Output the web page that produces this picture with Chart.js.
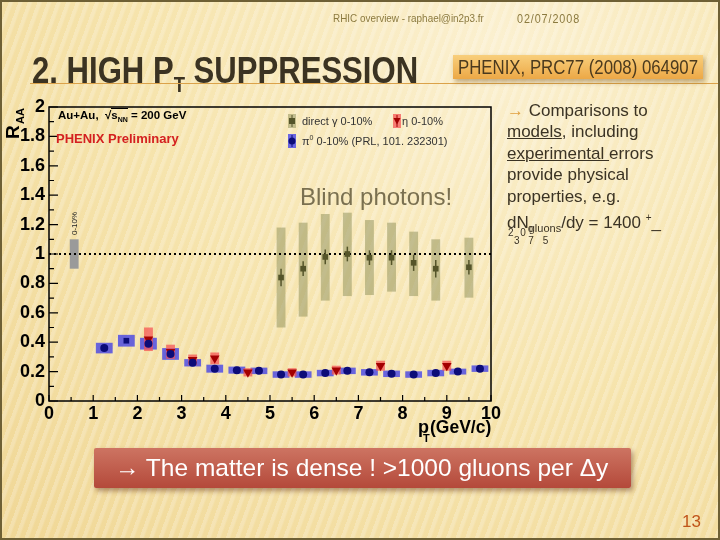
<!DOCTYPE html>
<html>
<head>
<meta charset="utf-8">
<script src="https://cdn.jsdelivr.net/npm/chart.js@4/dist/chart.umd.min.js"></script>
<style>
  html, body { margin: 0; padding: 0; }
  #slide {
    position: relative; width: 720px; height: 540px; overflow: hidden;
    font-family: "Liberation Sans", Arial, sans-serif;
    background:
      repeating-linear-gradient(110deg, rgba(255,255,255,0.22) 0px, rgba(255,255,255,0.22) 3px, rgba(255,255,255,0) 5px, rgba(255,255,255,0) 9px),
      radial-gradient(ellipse at 70% 8%, #fbf0d0 0%, #f6e4ad 50%, #f0d796 100%);
  }
  #c { position: absolute; left: 0; top: 0; }
  .t { position: absolute; white-space: nowrap; }
  #frame { position: absolute; left: 0; top: 0; width: 716px; height: 536px; border: 2px solid #6e6035; pointer-events: none; }
  #header { left: 333px; top: 12px; font-size: 11px; color: #8b7a40; transform: scaleX(0.9); transform-origin: left top; }
  #date { left: 517px; top: 12px; font-size: 12px; letter-spacing: 1px; color: #8b7a40; transform: scaleX(0.9); transform-origin: left top; }
  #title { left: 32px; top: 50px; font: bold 37px "Liberation Sans", Arial, sans-serif; color: #3b3322; transform: scaleX(0.84); transform-origin: left top; }
  #title sub { font-size: 22px; vertical-align: -9px; }
  #rule { position: absolute; left: 30px; top: 83px; width: 690px; height: 1px; background: #dba24a; }
  #ref { left: 453px; top: 55px; width: 250px; height: 24px;
         background: linear-gradient(#f8cf7c, #eca846); box-shadow: 2px 3px 5px rgba(120,80,20,0.45); }
  #ref span { position: absolute; left: 125px; top: 0; line-height: 24px; font-size: 20px; color: #4b3a1e;
              transform: translateX(-50%) scaleX(0.84); }
  #notes { left: 507px; top: 100px; font-size: 17px; line-height: 21.4px; color: #3b3324; }
  #notes .ar { color: #e0a040; }
  #notes u { text-decoration-thickness: 1px; }
  #small1 { left: 508px; top: 224px; font-size: 10px; color: #3b3324; letter-spacing: 2px; }
  #small2 { left: 514px; top: 235px; font-size: 10px; color: #3b3324; letter-spacing: 3px; }
  #banner { left: 94px; top: 448px; width: 537px; height: 40px; line-height: 40px;
            background: linear-gradient(#cd7462, #b4493a); border-radius: 2px;
            box-shadow: 2px 3px 5px rgba(90,40,20,0.45); color: #fff; font-size: 24.5px; padding-left: 21px; box-sizing: border-box; }
  #page { left: 682px; top: 512px; font-size: 17px; color: #c0541a; }
  #auau { left: 58px; top: 109px; font: bold 11.5px "Liberation Sans", Arial, sans-serif; color: #000; }
  #auau .rt { border-top: 1px solid #000; }
  #auau sub { font-size: 7px; }
  #prelim { left: 56px; top: 131px; font: bold 13px "Liberation Sans", Arial, sans-serif; color: #d42020; }
  #blind { left: 300px; top: 183px; font-size: 24px; color: #7a7050; }
  #leg1 { left: 302px; top: 115px; font-size: 11px; color: #333; }
  #leg2 { left: 402px; top: 115px; font-size: 11px; color: #333; }
  #leg3 { left: 302px; top: 134px; font-size: 11px; color: #333; }
  #norm { left: 70px; top: 235px; font-size: 8px; line-height: 9px; color: #222; transform: rotate(-90deg); transform-origin: left top; }
</style>
</head>
<body>
<div id="slide">
  <canvas id="c" width="720" height="540"></canvas>
  <div class="t" id="header">RHIC overview - raphael@in2p3.fr</div>
  <div class="t" id="date">02/07/2008</div>
  <div class="t" id="title">2. HIGH P<sub>T</sub> SUPPRESSION</div>
  <div id="rule"></div>
  <div class="t" id="ref"><span>PHENIX, PRC77 (2008) 064907</span></div>
  <div class="t" id="notes"><span class="ar">→</span> Comparisons to<br><u>models</u>, including<br><u>experimental </u>errors<br>provide physical<br>properties, e.g.<br>dN<sub style="font-size:11px">gluons</sub>/dy = 1400 <sup style="font-size:10px">+</sup>_</div>
  <div class="t" id="small1">2 0<sup style="font-size:9px">0</sup></div>
  <div class="t" id="small2">3 7 5</div>
  <div class="t" id="banner">→ The matter is dense ! &gt;1000 gluons per Δy</div>
  <div class="t" id="page">13</div>
  <div class="t" id="auau">Au+Au, &nbsp;√<span class="rt">s<sub>NN</sub></span> = 200 GeV</div>
  <div class="t" id="prelim">PHENIX Preliminary</div>
  <div class="t" id="blind">Blind photons!</div>
  <div class="t" id="leg1">direct γ 0-10%</div>
  <div class="t" id="leg2">η 0-10%</div>
  <div class="t" id="leg3">π<sup style="font-size:7px">0</sup> 0-10% (PRL, 101. 232301)</div>
  <div class="t" id="norm">0-10%</div>
  <div id="frame"></div>
</div>
<script>
// pi0 0-10% (PRL 101 232301)
const pi0X = [1.25, 1.75, 2.25, 2.75, 3.25, 3.75, 4.25, 4.75, 5.25, 5.75, 6.25, 6.75, 7.25, 7.75, 8.25, 8.75, 9.25, 9.75];
const pi0Y = [0.36, 0.41, 0.39, 0.32, 0.26, 0.22, 0.21, 0.205, 0.18, 0.18, 0.19, 0.205, 0.195, 0.185, 0.18, 0.19, 0.2, 0.22];
const pi0Sys = [0.036, 0.04, 0.04, 0.04, 0.025, 0.027, 0.024, 0.022, 0.022, 0.022, 0.022, 0.022, 0.022, 0.022, 0.022, 0.022, 0.02, 0.022];

// eta 0-10%
const etaX = [2.25, 2.75, 3.25, 3.75, 4.5, 5.5, 6.5, 7.5, 9.0];
const etaY = [0.42, 0.335, 0.28, 0.29, 0.195, 0.195, 0.21, 0.24, 0.24];
const etaSys = [0.08, 0.048, 0.036, 0.04, 0.028, 0.028, 0.03, 0.034, 0.034];

// direct photons 0-10%
const gammaX = [5.25, 5.75, 6.25, 6.75, 7.25, 7.75, 8.25, 8.75, 9.5];
const gammaY = [0.84, 0.90, 0.98, 1.00, 0.975, 0.975, 0.94, 0.90, 0.91];
const gammaStat = [0.06, 0.05, 0.05, 0.05, 0.05, 0.05, 0.055, 0.06, 0.05];
const gammaLo = [0.50, 0.574, 0.683, 0.714, 0.721, 0.744, 0.714, 0.683, 0.703];
const gammaHi = [1.18, 1.213, 1.272, 1.281, 1.231, 1.213, 1.152, 1.10, 1.111];

// normalization uncertainty box
const normX = [0.47, 0.67];
const normY = [0.9, 1.1];

const xMin = 0, xMax = 10, xStep = 1;
const yMin = 0, yMax = 2, yStep = 0.2;

const pts = (xs, ys) => xs.map((v, i) => ({ x: v, y: ys[i] }));

const boxPlugin = {
  id: "boxes",
  beforeDatasetsDraw(chart) {
    const { ctx, scales: { x, y } } = chart;
    const rect = (x0, x1, y0, y1, col) => {
      const l = x.getPixelForValue(x0), r = x.getPixelForValue(x1);
      const t = y.getPixelForValue(y1), b = y.getPixelForValue(y0);
      ctx.fillStyle = col;
      ctx.fillRect(l, t, r - l, b - t);
    };
    ctx.save();
    rect(normX[0], normX[1], normY[0], normY[1], "#9a9a9a");
    gammaX.forEach((v, i) => rect(v - 0.1, v + 0.1, gammaLo[i], gammaHi[i], "rgba(150,150,95,0.55)"));
    pi0X.forEach((v, i) => rect(v - 0.19, v + 0.19, pi0Y[i] - pi0Sys[i], pi0Y[i] + pi0Sys[i], "rgba(50,50,235,0.72)"));
    etaX.forEach((v, i) => rect(v - 0.1, v + 0.1, etaY[i] - etaSys[i], etaY[i] + etaSys[i], "rgba(245,80,80,0.72)"));

    // dotted line at R_AA = 1
    ctx.strokeStyle = "#000";
    ctx.lineWidth = 2;
    ctx.setLineDash([2, 3]);
    ctx.beginPath();
    ctx.moveTo(x.getPixelForValue(xMin), y.getPixelForValue(1));
    ctx.lineTo(x.getPixelForValue(xMax), y.getPixelForValue(1));
    ctx.stroke();
    ctx.setLineDash([]);

    // photon stat errors
    ctx.strokeStyle = "#55552a";
    ctx.lineWidth = 1.5;
    gammaX.forEach((v, i) => {
      const px = x.getPixelForValue(v);
      ctx.beginPath();
      ctx.moveTo(px, y.getPixelForValue(gammaY[i] - gammaStat[i]));
      ctx.lineTo(px, y.getPixelForValue(gammaY[i] + gammaStat[i]));
      ctx.stroke();
    });
    ctx.restore();
  },
  afterDraw(chart) {
    const { ctx, chartArea: a, scales: { x, y } } = chart;
    ctx.save();
    ctx.strokeStyle = "#000";
    ctx.lineWidth = 1.5;
    ctx.strokeRect(a.left, a.top, a.right - a.left, a.bottom - a.top);

    // inward ticks, majors from the scale and minors halfway
    ctx.lineWidth = 1.2;
    ctx.beginPath();
    y.ticks.forEach((t) => {
      const py = y.getPixelForValue(t.value);
      ctx.moveTo(a.left, py); ctx.lineTo(a.left + 9, py);
      const m = t.value + yStep / 2;
      if (m < yMax) {
        const pm = y.getPixelForValue(m);
        ctx.moveTo(a.left, pm); ctx.lineTo(a.left + 5, pm);
      }
    });
    x.ticks.forEach((t) => {
      const px = x.getPixelForValue(t.value);
      ctx.moveTo(px, a.bottom); ctx.lineTo(px, a.bottom - 6);
      const m = t.value + xStep / 2;
      if (m < xMax) {
        const pm = x.getPixelForValue(m);
        ctx.moveTo(pm, a.bottom); ctx.lineTo(pm, a.bottom - 4);
      }
    });
    ctx.stroke();

    // axis titles
    ctx.fillStyle = "#000";
    ctx.textBaseline = "alphabetic";
    ctx.font = 'bold 18px "Liberation Sans", Arial';
    ctx.fillText("p", 418, 433);
    ctx.font = 'bold 11px "Liberation Sans", Arial';
    ctx.fillText("T", 423, 442);
    ctx.font = 'bold 17.5px "Liberation Sans", Arial';
    ctx.fillText("(GeV/c)", 430, 433);

    ctx.translate(19, 139);
    ctx.rotate(-Math.PI / 2);
    ctx.font = 'bold 19px "Liberation Sans", Arial';
    ctx.fillText("R", 0, 0);
    ctx.font = 'bold 11px "Liberation Sans", Arial';
    ctx.fillText("AA", 15, 5);
    ctx.restore();

    // legend symbols
    ctx.save();
    const sym = (cx, cy, box, col, shape) => {
      ctx.fillStyle = box;
      ctx.fillRect(cx - 4, cy - 7, 8, 14);
      ctx.fillStyle = col;
      ctx.beginPath();
      if (shape === "rect") ctx.rect(cx - 3, cy - 3, 6, 6);
      else if (shape === "tri") { ctx.moveTo(cx - 3.5, cy - 3); ctx.lineTo(cx + 3.5, cy - 3); ctx.lineTo(cx, cy + 3.5); ctx.closePath(); }
      else ctx.arc(cx, cy, 3.5, 0, Math.PI * 2);
      ctx.fill();
      ctx.strokeStyle = col;
      ctx.beginPath(); ctx.moveTo(cx, cy - 6); ctx.lineTo(cx, cy + 6); ctx.stroke();
    };
    sym(292, 121, "rgba(150,150,95,0.55)", "#55552a", "rect");
    sym(397, 121, "rgba(245,80,80,0.72)", "#a00000", "tri");
    sym(292, 141, "rgba(50,50,235,0.72)", "#0c0c78", "circle");
    ctx.restore();
  }
};

new Chart(document.getElementById("c"), {
  type: "scatter",
  data: {
    datasets: [
      {
        label: "pi0 0-10%",
        data: pts(pi0X, pi0Y),
        backgroundColor: "#0c0c78",
        borderWidth: 0,
        pointRadius: 4,
        pointStyle: pi0X.map((v, i) => (i === 1 ? "rect" : "circle")),
      },
      {
        label: "eta 0-10%",
        data: pts(etaX, etaY),
        backgroundColor: "#a30000",
        borderWidth: 0,
        pointRadius: 5.5,
        pointStyle: "triangle",
        rotation: 180,
      },
      {
        label: "direct gamma 0-10%",
        data: pts(gammaX, gammaY),
        backgroundColor: "#55552a",
        borderWidth: 0,
        pointRadius: 4,
        pointStyle: "rect",
      },
    ],
  },
  options: {
    responsive: false,
    animation: false,
    layout: { padding: { top: 107, right: 229, bottom: 109, left: 0 } },
    plugins: { legend: { display: false }, tooltip: { enabled: false } },
    scales: {
      x: {
        type: "linear",
        min: xMin,
        max: xMax,
        grid: { display: false, drawTicks: false },
        border: { display: false },
        ticks: { stepSize: xStep, padding: 2, color: "#000", font: { family: "Liberation Sans", size: 18, weight: "bold" } },
        afterFit: (s) => { s.height = 30; },
      },
      y: {
        min: yMin,
        max: yMax,
        grid: { display: false, drawTicks: false },
        border: { display: false },
        ticks: {
          stepSize: yStep,
          padding: 4,
          color: "#000",
          font: { family: "Liberation Sans", size: 18, weight: "bold" },
          callback: (v) => String(+v.toFixed(1)),
        },
        afterFit: (s) => { s.width = 49; },
      },
    },
  },
  plugins: [boxPlugin],
});
</script>
</body>
</html>
